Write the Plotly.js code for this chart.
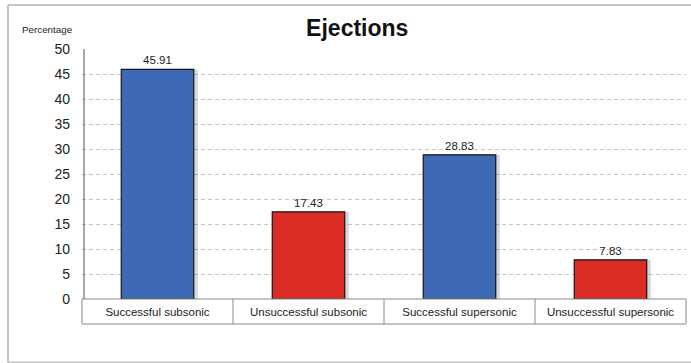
<!DOCTYPE html>
<html>
<head>
<meta charset="utf-8">
<script src="https://cdn.plot.ly/plotly-3.0.1.min.js"></script>
<style>html,body{margin:0;padding:0;background:#fff;}#chart{width:691px;height:363px;}</style>
</head>
<body>
<div id="chart"></div>
<script>
const categories = ["Successful subsonic", "Unsuccessful subsonic", "Successful supersonic", "Unsuccessful supersonic"];
const values = [45.91, 17.43, 28.83, 7.83];
const barColors = ["#3e69b5", "#db2c26", "#3e69b5", "#db2c26"];
const yTicks = [0, 5, 10, 15, 20, 25, 30, 35, 40, 45, 50];

const L = 82, R = 686, T = 49, B = 299, W = 691, H = 363;
const pw = R - L, ph = B - T;
const px = v => (v - L) / pw;
const py = v => (B - v) / ph;

const shadow = {
  type: 'bar', x: categories, y: values, width: 0.48, offset: -0.24 + 4 / pw * 4,
  marker: {color: 'rgba(0,0,0,0.16)', line: {width: 0}},
  hoverinfo: 'skip', showlegend: false
};
const bars = {
  type: 'bar', x: categories, y: values, width: 0.48,
  marker: {color: barColors, line: {color: '#151515', width: 1.2}},
  text: values.map(v => v.toFixed(2)), textposition: 'outside', cliponaxis: false,
  textfont: {family: 'Liberation Sans, Arial, sans-serif', size: 11.5, color: '#222'},
  showlegend: false
};

const frameLine = {color: '#c4c4c4', width: 2};
const shapes = [
  // outer frame (top, left, bottom; right edge lies outside the picture)
  {type: 'line', xref: 'paper', yref: 'paper', x0: px(8), x1: px(691), y0: py(5), y1: py(5), line: frameLine, layer: 'below'},
  {type: 'line', xref: 'paper', yref: 'paper', x0: px(8), x1: px(8), y0: py(5), y1: py(362.5), line: frameLine, layer: 'below'},
  {type: 'line', xref: 'paper', yref: 'paper', x0: px(8), x1: px(691), y0: py(362.5), y1: py(362.5), line: frameLine, layer: 'below'},
  // category table box
  {type: 'rect', xref: 'paper', yref: 'paper', x0: 0, x1: 1, y0: py(324), y1: 0,
   line: {color: '#8a8a8a', width: 1}, fillcolor: 'rgba(0,0,0,0)'}
];
for (let i = 1; i < categories.length; i++) {
  shapes.push({type: 'line', xref: 'paper', yref: 'paper', x0: i / categories.length, x1: i / categories.length,
    y0: py(324), y1: 0, line: {color: '#8a8a8a', width: 1}});
}
// left axis line
shapes.push({type: 'line', xref: 'paper', yref: 'paper', x0: px(84), x1: px(84), y0: 0, y1: 1,
  line: {color: '#555', width: 1}});

const layout = {
  width: W, height: H,
  margin: {l: L, r: W - R, t: T, b: H - B},
  paper_bgcolor: '#fff', plot_bgcolor: '#fff',
  bargap: 0.52,
  font: {family: 'Liberation Sans, Arial, sans-serif', color: '#222'},
  title: {text: '<b>Ejections</b>', x: 0.517, xanchor: 'center', y: 0.922, yanchor: 'middle',
    font: {size: 23, family: 'Liberation Sans, Arial, sans-serif', color: '#111'}},
  xaxis: {
    showgrid: false, zeroline: false, showline: false, ticks: '',
    tickfont: {size: 11.5, color: '#222'}, ticklabelstandoff: 4, fixedrange: true
  },
  yaxis: {
    range: [0, 50], tickvals: yTicks, ticktext: yTicks.map(String),
    showgrid: true, gridcolor: '#c4c4c4', griddash: '4px,3px', gridwidth: 1,
    zeroline: false, showline: false, ticks: '',
    tickfont: {size: 14, color: '#222'}, ticklabelstandoff: 11, fixedrange: true
  },
  shapes: shapes,
  annotations: [
    {text: 'Percentage', xref: 'paper', yref: 'paper', x: px(20), y: py(30), xanchor: 'left', yanchor: 'middle',
     showarrow: false, font: {size: 9.8, color: '#222'}}
  ]
};

Plotly.newPlot('chart', [shadow, bars], layout, {displayModeBar: false, staticPlot: true});
</script>
</body>
</html>
